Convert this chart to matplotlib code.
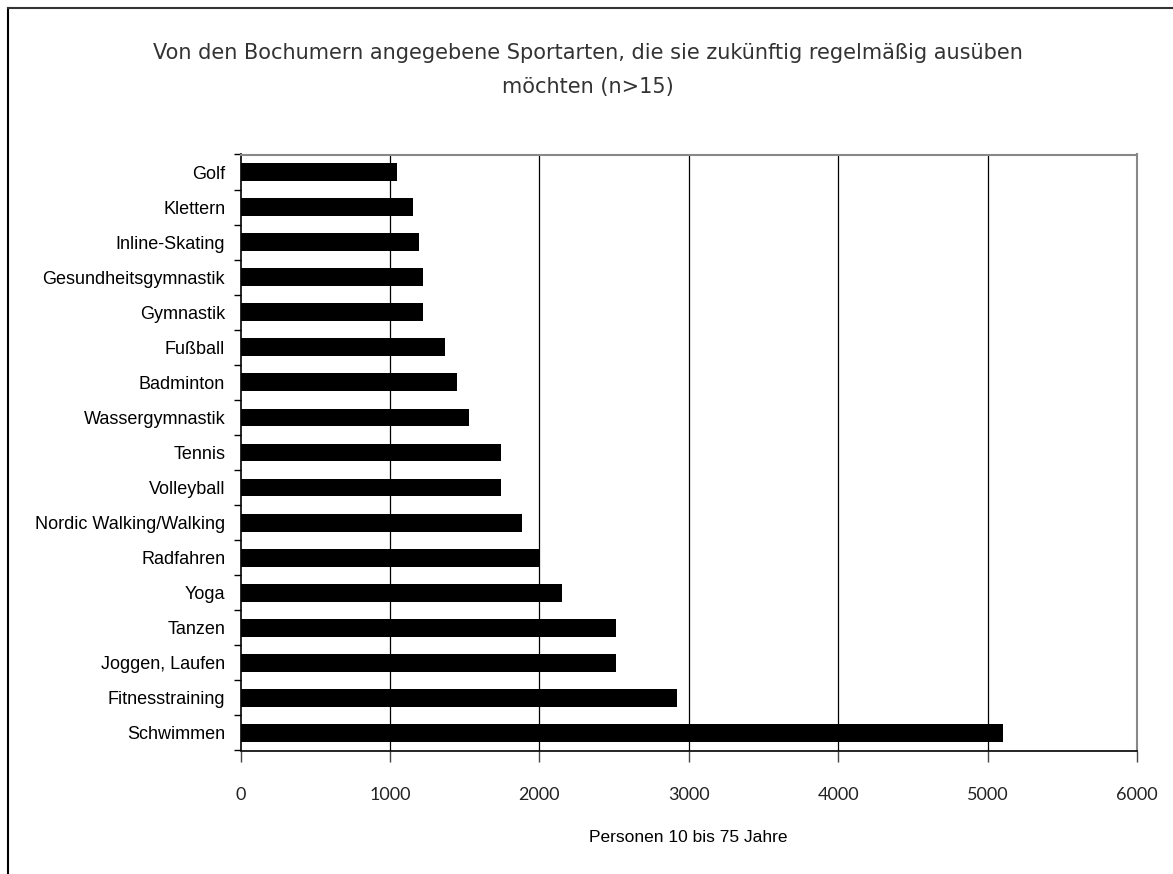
import numpy as np
import matplotlib
matplotlib.use("Agg")
import matplotlib.pyplot as plt
from matplotlib.lines import Line2D

## Daten (von oben nach unten)
sportarten = ["Golf", "Klettern", "Inline-Skating", "Gesundheitsgymnastik", "Gymnastik",
              "Fußball", "Badminton", "Wassergymnastik", "Tennis", "Volleyball",
              "Nordic Walking/Walking", "Radfahren", "Yoga", "Tanzen", "Joggen, Laufen",
              "Fitnesstraining", "Schwimmen"]
personen = [1048, 1153, 1193, 1220, 1220, 1367, 1447, 1527, 1741, 1741,
            1886, 2007, 2154, 2515, 2515, 2924, 5104]
xticks = [0, 1000, 2000, 3000, 4000, 5000, 6000]

titel = "Von den Bochumern angegebene Sportarten, die sie zukünftig regelmäßig ausüben\nmöchten (n>15)"
xlabel = "Personen 10 bis 75 Jahre"


def main():
    W, H = 1173, 874
    fig = plt.figure(figsize=(W / 100, H / 100), dpi=100, facecolor='w')
    ax = fig.add_axes([240.5 / W, 1 - 750.5 / H, (1137 - 240.5) / W, (750.5 - 154.5) / H])

    pos = np.arange(len(sportarten))
    ax.barh(pos, personen, height=0.51, color='black', zorder=3)

    ax.set_ylim(len(sportarten) - 0.5, -0.5)
    ax.set_xlim(0, 6000)

    # Gitter
    ax.set_xticks(xticks)
    ax.set_xticklabels([str(t) for t in xticks], fontsize=13, family='Lato', color='#222222')
    for t in xticks[1:-1]:
        ax.axvline(t, color='black', linewidth=0.9, zorder=1)

    ax.set_yticks(pos)
    ax.set_yticklabels(sportarten, fontsize=13, family='Liberation Sans')
    ax.set_yticks(np.arange(len(sportarten) + 1) - 0.5, minor=True)
    ax.tick_params(axis='y', which='major', length=0, pad=11)
    ax.tick_params(axis='y', which='minor', length=5, width=1, color='black', direction='out')
    ax.tick_params(axis='x', which='major', length=8, width=1, color='#444444', direction='out', pad=18)

    for s in ['top', 'right']:
        ax.spines[s].set_color('#888888')
        ax.spines[s].set_linewidth(1.5)
    ax.spines['left'].set_color('black')
    ax.spines['bottom'].set_color('black')
    ax.spines['left'].set_linewidth(1.2)
    ax.spines['bottom'].set_linewidth(1.2)

    fig.text(588 / W, 1 - 70 / H, titel, ha='center', va='center', fontsize=15,
             family='DejaVu Sans', color='#333333', linespacing=1.85)
    fig.text(688.7 / W, 1 - 838 / H, xlabel, ha='center', va='center', fontsize=12.5,
             family='Liberation Sans', color='black')

    # Rahmen
    fig.add_artist(Line2D([7.5 / W, 7.5 / W], [0, 1 - 8 / H], color='black', linewidth=1.5))
    fig.add_artist(Line2D([7.5 / W, 1], [1 - 8 / H, 1 - 8 / H], color='#333333', linewidth=1.5))

    fig.savefig("out.png", dpi=100, facecolor='w')


if __name__ == "__main__":
    main()
